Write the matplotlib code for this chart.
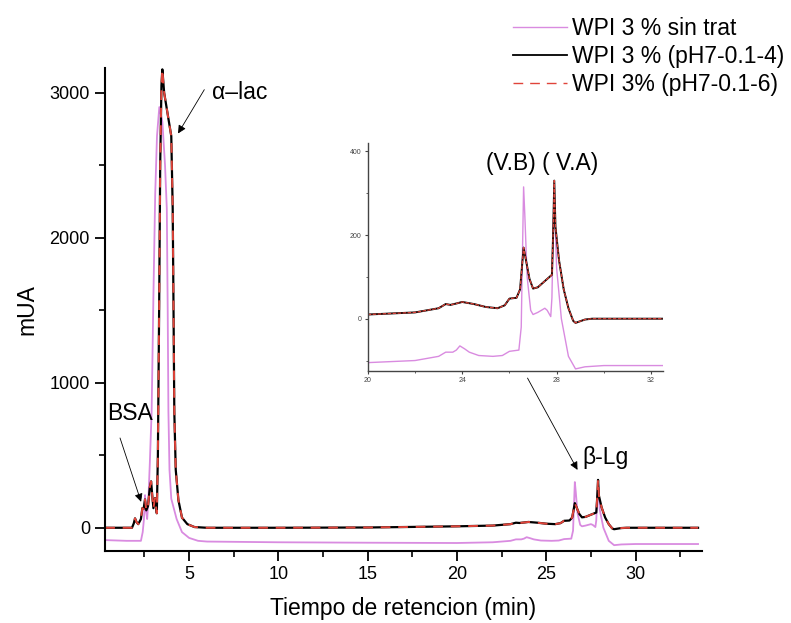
import matplotlib
matplotlib.use("Agg")
import matplotlib.pyplot as plt
from matplotlib.ticker import MultipleLocator
from matplotlib.lines import Line2D

plt.rcParams['font.family'] = ['Liberation Sans', 'DejaVu Sans']

# chromatogram points (time in min, signal in mUA)
t_sin = [0.3, 1.5, 2.3, 2.4, 2.47, 2.53, 2.58, 2.65, 2.72, 2.8, 2.9, 3.0, 3.1, 3.2,
         3.33, 3.5, 3.65, 3.75, 3.8, 3.84, 3.9, 4.0, 4.3, 4.6, 5.0, 5.5, 6.0, 10,
         15, 20, 22, 23, 23.3, 23.6, 23.75, 23.9, 24.1, 24.3, 24.7, 25.3, 25.7,
         26.0, 26.4, 26.5, 26.55, 26.6, 26.65, 26.75, 26.9, 27.0, 27.2, 27.5,
         27.6, 27.75, 27.8, 27.85, 27.9, 28.0, 28.2, 28.5, 28.8, 29.2, 30, 33.5]
y_sin = [-85, -90, -90, -30, 60, 225, 120, 60, 200, 450, 800, 1600, 2300, 2700,
         2900, 2800, 2500, 2200, 1500, 800, 400, 200, 60, -30, -70, -90, -95, -100,
         -103, -105, -100, -90, -80, -80, -75, -65, -72, -80, -88, -90, -88,
         -78, -75, -20, 150, 315, 250, 100, 20, 10, 15, 25,
         20, 5, 50, 200, 290, 120, 0, -90, -120, -115, -112, -112]

t_ph = [0.3, 1.8, 1.9, 1.97, 2.05, 2.15, 2.3, 2.38, 2.45, 2.53, 2.6, 2.7, 2.8,
        2.87, 2.95, 3.0, 3.09, 3.19, 3.25, 3.32, 3.38, 3.45, 3.5, 3.6, 3.8, 4.0,
        4.08, 4.12, 4.17, 4.25, 4.4, 4.6, 4.9, 5.3, 6.0, 10, 15, 17, 20, 22, 23,
        23.3, 23.5, 23.8, 24.0, 24.5, 25.0, 25.5, 25.8, 26.0, 26.3, 26.45, 26.6,
        26.7, 26.85, 27.0, 27.2, 27.4, 27.7, 27.8, 27.85, 27.9, 27.95, 28.1,
        28.3, 28.5, 28.7, 28.8, 29.2, 29.5, 33.5]
y_ph4 = [0, 0, 30, 65, 40, 25, 60, 135, 130, 195, 120, 150, 280,
         320, 200, 135, 205, 100, 500, 1500, 2500, 3050, 3160, 3000, 2850, 2700,
         2200, 1600, 800, 400, 190, 70, 25, 5, 0, 0, 2, 5, 10, 15, 25,
         35, 33, 37, 40, 35, 28, 25, 32, 48, 50, 70, 170,
         140, 95, 72, 75, 85, 100, 105, 200, 330, 220, 140,
         70, 25, -5, -10, -2, 0, 0]
y_ph6 = list(y_ph4)  # the pH7-0.1-6 trace sits on top of the pH7-0.1-4 one

labels = ['WPI 3 % sin trat', 'WPI 3 % (pH7-0.1-4)', 'WPI 3% (pH7-0.1-6)']
c_pink = '#d98be0'
c_red = '#e0443a'
big = 16.5

fig = plt.figure(figsize=(7.91, 6.23), dpi=100)
ax = fig.add_axes([0.133, 0.1156, 0.754, 0.7754])

ax.plot(t_sin, y_sin, color=c_pink, lw=1.3)
ax.plot(t_ph, y_ph4, color='black', lw=1.6)
ax.plot(t_ph, y_ph6, color=c_red, lw=1.4, ls=(0, (5, 4)))

ax.set_xlim(0.3, 33.7)
ax.set_ylim(-160, 3170)
ax.xaxis.set_minor_locator(MultipleLocator(2.5))
ax.yaxis.set_minor_locator(MultipleLocator(500))
ax.set_xticks([5, 10, 15, 20, 25, 30])
ax.set_yticks([0, 1000, 2000, 3000])
ax.spines['top'].set_visible(False)
ax.spines['right'].set_visible(False)
for s in ['left', 'bottom']:
    ax.spines[s].set_linewidth(1.5)
ax.tick_params(which='major', direction='out', length=7, width=1.3, labelsize=13, pad=4)
ax.tick_params(which='minor', direction='out', length=4, width=1.2)

ax.set_xlabel('Tiempo de retencion (min)', fontsize=big, labelpad=10)
ax.set_ylabel('mUA', fontsize=big, labelpad=8)

arrow = dict(arrowstyle='-|>', color='black', lw=0.6, mutation_scale=12, shrinkA=0, shrinkB=0)
ax.annotate('\u03b1\u2013lac', xy=(4.38, 2718), xytext=(6.29, 3000), fontsize=big,
            va='center', ha='left')
ax.annotate('', xy=(4.38, 2718), xytext=(5.85, 3020), arrowprops=arrow)
ax.annotate('BSA', xy=(2.31, 179), xytext=(0.4, 791), fontsize=big,
            va='center', ha='left')
ax.annotate('', xy=(2.31, 179), xytext=(1.13, 619), arrowprops=arrow)
ax.annotate('\u03b2-Lg', xy=(26.75, 399), xytext=(27.03, 482), fontsize=big,
            va='center', ha='left')
ax.annotate('', xy=(26.75, 399), xytext=(23.95, 1032), arrowprops=arrow)

handles = [Line2D([], [], color=c_pink, lw=1.0),
           Line2D([], [], color='black', lw=1.3),
           Line2D([], [], color=c_red, lw=1.0, ls=(0, (7, 5)))]
fig.legend(handles, labels, loc='upper left', bbox_to_anchor=(0.6486, 0.972),
           frameon=False, fontsize=big, handlelength=2.36, labelspacing=0.2,
           borderpad=0, borderaxespad=0, handletextpad=0.22)

# inset zoom on the beta-lactoglobulin region
ins = fig.add_axes([0.465, 0.4045, 0.373, 0.366])
ins.plot(t_sin, y_sin, color=c_pink, lw=1.0)
ins.plot(t_ph, y_ph4, color='black', lw=1.4)
ins.plot(t_ph, y_ph6, color=c_red, lw=0.9, ls=(0, (3, 1)))
ins.set_xlim(20, 32.5)
ins.set_ylim(-125, 420)
ins.xaxis.set_minor_locator(MultipleLocator(2))
ins.yaxis.set_minor_locator(MultipleLocator(100))
ins.set_xticks([20, 24, 28, 32])
ins.set_yticks([0, 200, 400])
ins.patch.set_alpha(0)
ins.spines['top'].set_visible(False)
ins.spines['right'].set_visible(False)
for s in ['left', 'bottom']:
    ins.spines[s].set_linewidth(1.0)
    ins.spines[s].set_color('#444444')
ins.tick_params(which='major', direction='out', length=2.5, width=0.8, labelsize=5,
                colors='#444444', pad=2)
ins.tick_params(which='minor', direction='out', length=1.5, width=0.6, colors='#444444')
ins.text(0.59, 0.912, '(V.B) ( V.A)', transform=ins.transAxes, fontsize=big,
         ha='center', va='center')

fig.savefig('out.png', dpi=100)
